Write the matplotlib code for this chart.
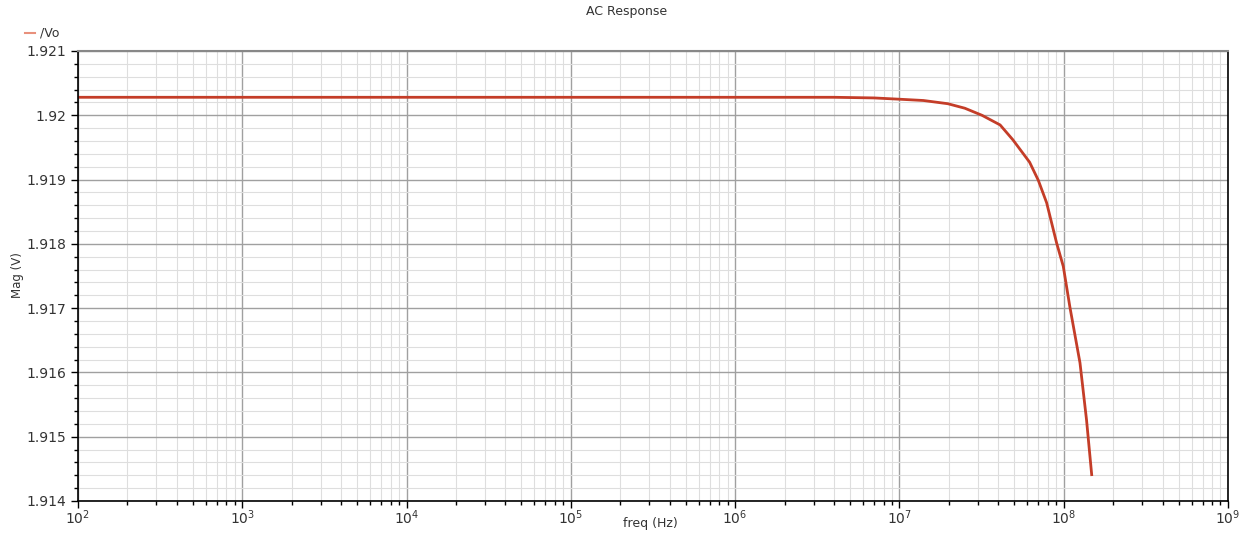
import matplotlib
matplotlib.use("Agg")
import matplotlib.pyplot as plt
from matplotlib.ticker import FixedLocator, MultipleLocator, FuncFormatter, NullFormatter
import numpy as np

# Data
freq_hz = [1e2, 1e3, 1e4, 1e5, 1e6, 4e6, 7e6, 1e7, 1.4e7, 1.97e7, 2.5e7, 3.18e7,
           4.1e7, 4.9e7, 6.2e7, 7.0e7, 7.87e7, 9.06e7, 9.94e7, 1.09e8, 1.256e8,
           1.377e8, 1.48e8]
mag_v = [1.92028, 1.92028, 1.92028, 1.92028, 1.92028, 1.92028, 1.92027, 1.92025,
         1.92023, 1.92018, 1.92011, 1.92000, 1.91985, 1.91962, 1.91927, 1.91899,
         1.91864, 1.91801, 1.91765, 1.91702, 1.91615, 1.91526, 1.91441]
x_exponents = [2, 3, 4, 5, 6, 7, 8, 9]
series_name = "/Vo"
title = "AC Response"
xlabel = "freq (Hz)"
ylabel = "Mag (V)"

plt.rcParams['font.family'] = ['DejaVu Sans']

fig = plt.figure(figsize=(12.54, 5.33), dpi=100)
ax = fig.add_axes([78/1254, 1-501/533, (1228-78)/1254, (501-51)/533])

line_color = '#c43d28'
ax.plot(freq_hz, mag_v, color=line_color, lw=2.0, solid_joinstyle='round')

ax.set_xscale('log')
ax.set_xlim(1e2, 1e9)
ax.set_ylim(1.914, 1.921)

majors = [10.0 ** e for e in x_exponents]
minors = [m * 10.0 ** e for e in x_exponents[:-1] for m in range(2, 10)]
ax.xaxis.set_major_locator(FixedLocator(majors))
ax.xaxis.set_minor_locator(FixedLocator(minors))
ax.xaxis.set_major_formatter(FuncFormatter(lambda v, p: r'$10^{%d}$' % round(np.log10(v))))
ax.xaxis.set_minor_formatter(NullFormatter())
ax.yaxis.set_major_locator(MultipleLocator(0.001))
ax.yaxis.set_minor_locator(MultipleLocator(0.0002))
ax.yaxis.set_major_formatter(FuncFormatter(lambda v, p: ('%.3f' % v).rstrip('0')))

ax.grid(which='major', color='#a0a0a0', lw=1.0)
ax.grid(which='minor', color='#dedede', lw=0.8)
ax.set_axisbelow(True)

ax.tick_params(which='major', direction='out', length=5, width=1, labelsize=10,
               colors='black', labelcolor='#333333')
ax.tick_params(which='minor', direction='out', length=3, width=1, colors='black')
ax.tick_params(axis='x', pad=0)

for s in ['left', 'bottom', 'right']:
    ax.spines[s].set_color('black')
    ax.spines[s].set_linewidth(1.2)
ax.spines['top'].set_color('#888888')
ax.spines['top'].set_linewidth(1.5)

fig.text(0.5, 1-12/533, title, ha='center', va='center', fontsize=9, color='#333333')
fig.text(650/1254, 1-524/533, xlabel, ha='center', va='center', fontsize=9, color='#333333')
fig.text(18/1254, 1-275/533, ylabel, ha='center', va='center', rotation=90, fontsize=8.5, color='#333333')

# Legend entry
fig.add_artist(plt.Line2D([25/1254, 35/1254], [1-33/533, 1-33/533], color='#e8907c', lw=1.5,
                          transform=fig.transFigure))
fig.text(40/1254, 1-33/533, series_name, ha='left', va='center', fontsize=9, color='#333333')

fig.savefig('out.png', dpi=100)
